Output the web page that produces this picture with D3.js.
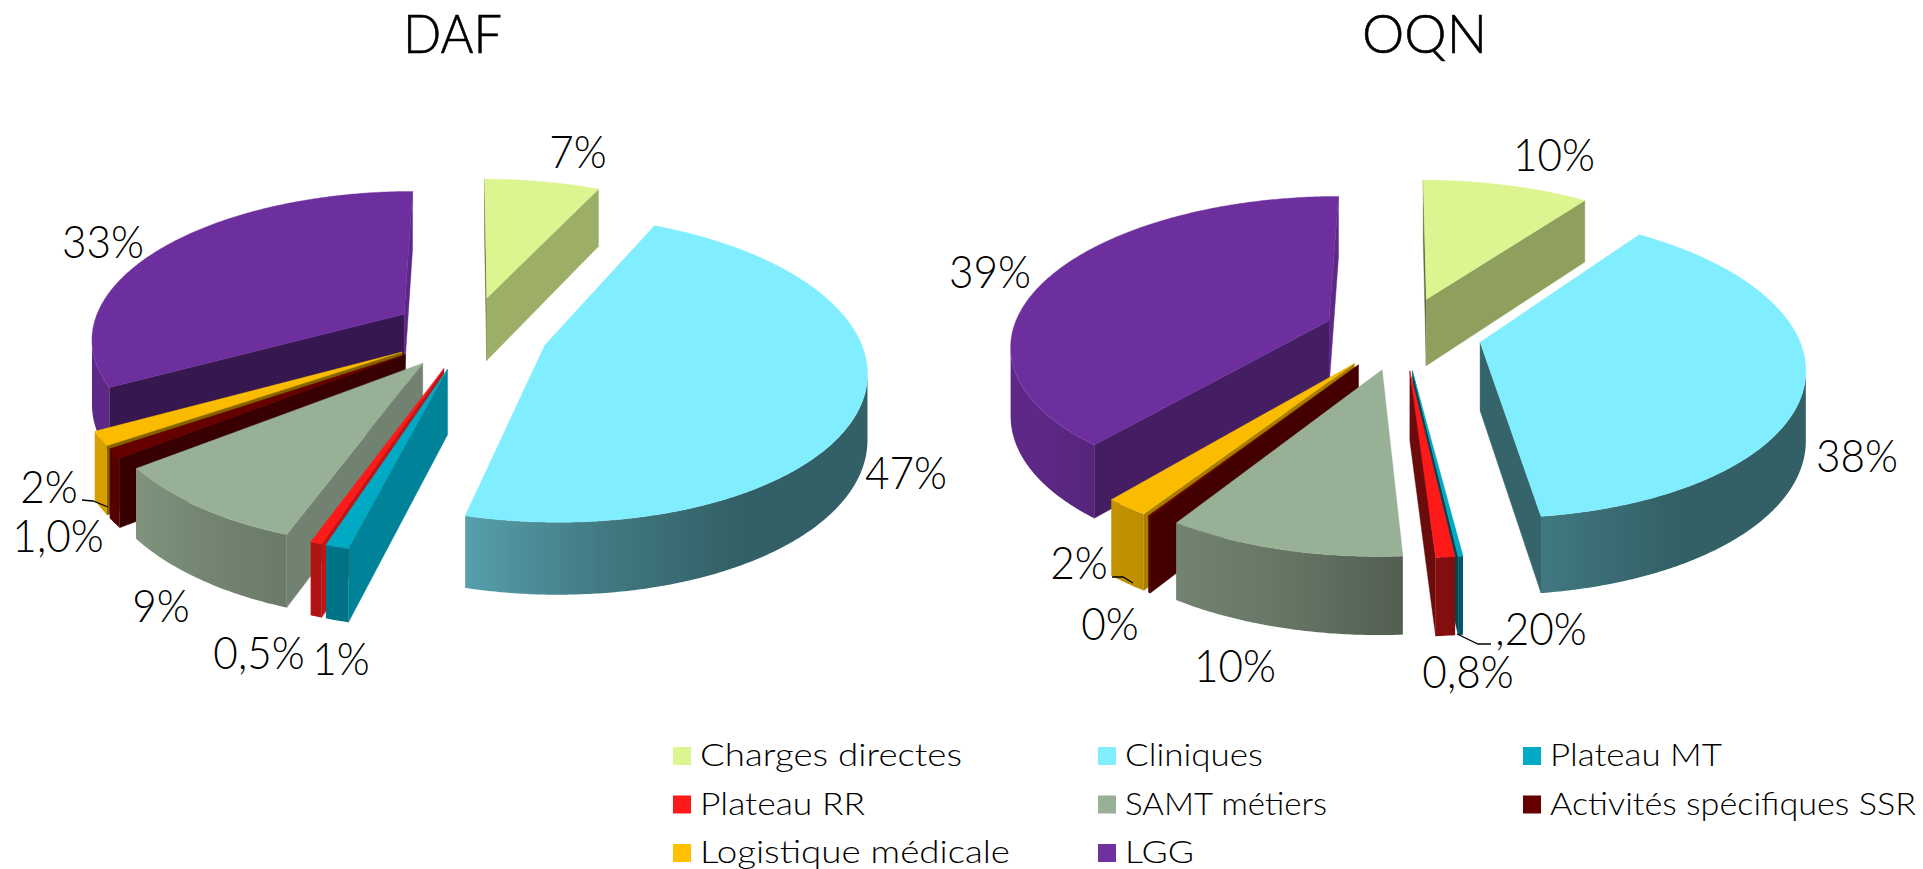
<!DOCTYPE html>
<html>
<head>
<meta charset="utf-8">
<script src="https://cdn.jsdelivr.net/npm/d3@7"></script>
<style>
    html, body { margin: 0; background: #fff; overflow: hidden; }
    text { font-family: Lato, sans-serif; font-weight: 300; fill: #000; }
</style>
</head>
<body>
<svg id="chart" width="1923" height="869"></svg>
<script>
const categories = ['Charges directes', 'Cliniques', 'Plateau MT', 'Plateau RR', 'SAMT métiers', 'Activités spécifiques SSR', 'Logistique médicale', 'LGG']
const colors = ['#dcf590', '#80eeff', '#00a9c4', '#ff1a1a', '#98b096', '#660000', '#fbbc00', '#6e2f9e']
const legendColors = ['#dcf590', '#80eeff', '#00a9c4', '#ff1a1a', '#98b096', '#660000', '#ffc000', '#7030a0']
const legendWidths = [262, 138, 172, 165, 202, 366, 310, 69]

const dafValues = [7, 47, 1, 0.5, 9, 1, 1.5, 33]
const oqnValues = [10, 38, 0.2, 0.8, 10, 0.1, 1.9, 39]
const dafLabels = ['7%', '47%', '1%', '0,5%', '9%', '1,0%', '2%', '33%']
const oqnLabels = ['10%', '38%', ',20%', '0,8%', '10%', '0%', '2%', '39%']

// label centres
const dafLabelPos = [[578, 150], [906, 471], [341, 657], [259, 651], [161, 604], [58, 534], [49, 485], [103, 240]]
const oqnLabelPos = [[1554, 153], [1857, 454], [1541, 627], [1468, 670], [1235, 664], [1110, 622], [1079, 561], [990, 270]]
const dafLeaders = [[[82, 500], [93, 501], [108, 507]]]
const oqnLeaders = [[[1112, 577], [1123, 577], [1133, 583]], [[1457, 634], [1478, 644], [1491, 644]]]

const explode = 0.25
const perspective = 0.15
const radiusY = 146.4

const svg = d3.select('#chart')
const defs = svg.append('defs')
const line = d3.line()
const deg = Math.PI / 180
let gradientCount = 0

// how much a wall is darkened, by the direction it faces (degrees clockwise from the back)
const rimShade = d3.scaleLinear().domain([0, 150, 172, 194, 235, 360]).range([0.4, 0.4, 0.5, 0.67, 0.85, 0.9])
const wallShade = d3.scaleLinear().domain([104, 151]).range([0.78, 0.5])
function sideShade(angle) {
    const a = (angle + 360) % 360
    if (a >= 180) return 0.42
    return Math.min(wallShade(a), 0.85)
}
function shade(color, f) {
    const c = d3.rgb(color)
    return d3.rgb(c.r * f, c.g * f, c.b * f).formatHex()
}

function drawPie(cx, cy, radiusX, depth, values, labels, labelPos, leaders, title, titleX, titleWidth) {
    const xScale = d3.scaleLinear().domain([0, 1]).range([cx, cx + radiusX])
    const yScale = d3.scaleLinear().domain([0, 1]).range([cy, cy - radiusY])

    function project(u, v, z) {
        const w = 1 + perspective * v
        return [xScale(u / w), yScale(v / w) + depth * z / Math.pow(w, 0.7)]
    }

    const arcs = d3.pie().sort(null).value(d => d)(values).map((d, i) => {
        const mid = (d.startAngle + d.endAngle) / 2
        return {
            i,
            start: d.startAngle,
            end: d.endAngle,
            mid,
            ox: explode * Math.sin(mid),
            oy: explode * Math.cos(mid)
        }
    })

    // painter's order, back slices first
    const order = arcs.slice().sort((a, b) => d3.descending(Math.cos(a.mid), Math.cos(b.mid)))
    const g = svg.append('g')

    order.forEach(s => {
        const color = colors[s.i]
        const rim = (a, z) => project(s.ox + Math.sin(a), s.oy + Math.cos(a), z)
        const apex = z => project(s.ox, s.oy, z)

        const startWall = [apex(0), rim(s.start, 0), rim(s.start, 1), apex(1)]
        const endWall = [apex(0), rim(s.end, 0), rim(s.end, 1), apex(1)]
        if (d3.polygonArea(startWall) > 0) {
            const f = shade(color, sideShade(s.start / deg - 90))
            g.append('path').attr('d', line(startWall) + 'Z').attr('fill', f).attr('stroke', f).attr('stroke-width', 0.4)
        }
        if (d3.polygonArea(endWall) < 0) {
            const f = shade(color, sideShade(s.end / deg + 90))
            g.append('path').attr('d', line(endWall) + 'Z').attr('fill', f).attr('stroke', f).attr('stroke-width', 0.4)
        }

        const steps = d3.range(s.start, s.end, deg * 0.5).concat([s.end])

        // the curved wall, only the part that faces us, with a left-right gradient
        const front = steps.filter((a, i) => {
            const b = steps[i + 1] === undefined ? a : steps[i + 1]
            const a0 = steps[i + 1] === undefined ? steps[i - 1] : a
            return d3.polygonArea([rim(a0, 0), rim(b, 0), rim(b, 1), rim(a0, 1)]) > 0
        })
        if (front.length > 1) {
            const outline = front.map(a => rim(a, 0)).concat(front.slice().reverse().map(a => rim(a, 1)))
            const xs = front.map(a => rim(a, 0)[0])
            const x0 = d3.min(xs)
            const x1 = d3.max(xs)
            const id = 'rim' + gradientCount++
            const offset = d3.scaleLinear().domain([x0, x1]).range([0, 1])
            const stops = front
                .filter((a, i) => i % 6 === 0 || i === front.length - 1)
                .map(a => ({ o: offset(rim(a, 0)[0]), c: shade(color, rimShade(a / deg)) }))
                .sort((a, b) => a.o - b.o)
            defs.append('linearGradient')
                .attr('id', id)
                .attr('gradientUnits', 'userSpaceOnUse')
                .attr('x1', x0)
                .attr('x2', x1)
                .attr('y1', 0)
                .attr('y2', 0)
                .selectAll('stop')
                .data(stops)
                .join('stop')
                .attr('offset', d => d.o)
                .attr('stop-color', d => d.c)
            g.append('path').attr('d', line(outline) + 'Z').attr('fill', `url(#${id})`)
        }

        const top = [apex(0)].concat(steps.map(a => rim(a, 0)))
        g.append('path').attr('d', line(top) + 'Z').attr('fill', color).attr('stroke', color).attr('stroke-width', 0.4)
    })

    svg.append('text')
        .text(title)
        .attr('x', titleX)
        .attr('y', 53)
        .attr('text-anchor', 'middle')
        .attr('textLength', titleWidth)
        .attr('lengthAdjust', 'spacingAndGlyphs')
        .style('font-size', '53px')
        .style('stroke', '#000')
        .style('stroke-width', 0.6)

    svg.selectAll(null)
        .data(labels)
        .join('text')
        .text(d => d)
        .attr('transform', (d, i) => `translate(${labelPos[i][0]},${labelPos[i][1]}) scale(0.94,1)`)
        .attr('text-anchor', 'middle')
        .attr('dominant-baseline', 'central')
        .style('font-size', '45px')

    leaders.forEach(l => {
        svg.append('path').attr('d', line(l)).attr('fill', 'none').attr('stroke', '#000').attr('stroke-width', 1.3)
    })
}

drawPie(470.2, 332.6, 313, 64, dafValues, dafLabels, dafLabelPos, dafLeaders, 'DAF', 452.5, 99)
drawPie(1402.6, 333, 317, 68, oqnValues, oqnLabels, oqnLabelPos, oqnLeaders, 'OQN', 1424.5, 125)

// legend, three columns
const legendX = d3.scaleBand().domain([0, 1, 2]).range([673, 1948])
const legendY = d3.scalePoint().domain([0, 1, 2]).range([756, 853])
const legend = svg.selectAll('g.legend')
    .data(categories)
    .join('g')
    .attr('class', 'legend')
    .attr('transform', (d, i) => `translate(${legendX(i % 3)},${legendY(Math.floor(i / 3))})`)
legend.append('rect')
    .attr('x', 0)
    .attr('y', -9)
    .attr('width', 18)
    .attr('height', 18)
    .attr('fill', (d, i) => legendColors[i])
legend.append('text')
    .text(d => d)
    .attr('x', 27)
    .attr('y', 10)
    .attr('textLength', (d, i) => legendWidths[i])
    .attr('lengthAdjust', 'spacingAndGlyphs')
    .style('font-size', '31px')
</script>
</body>
</html>
